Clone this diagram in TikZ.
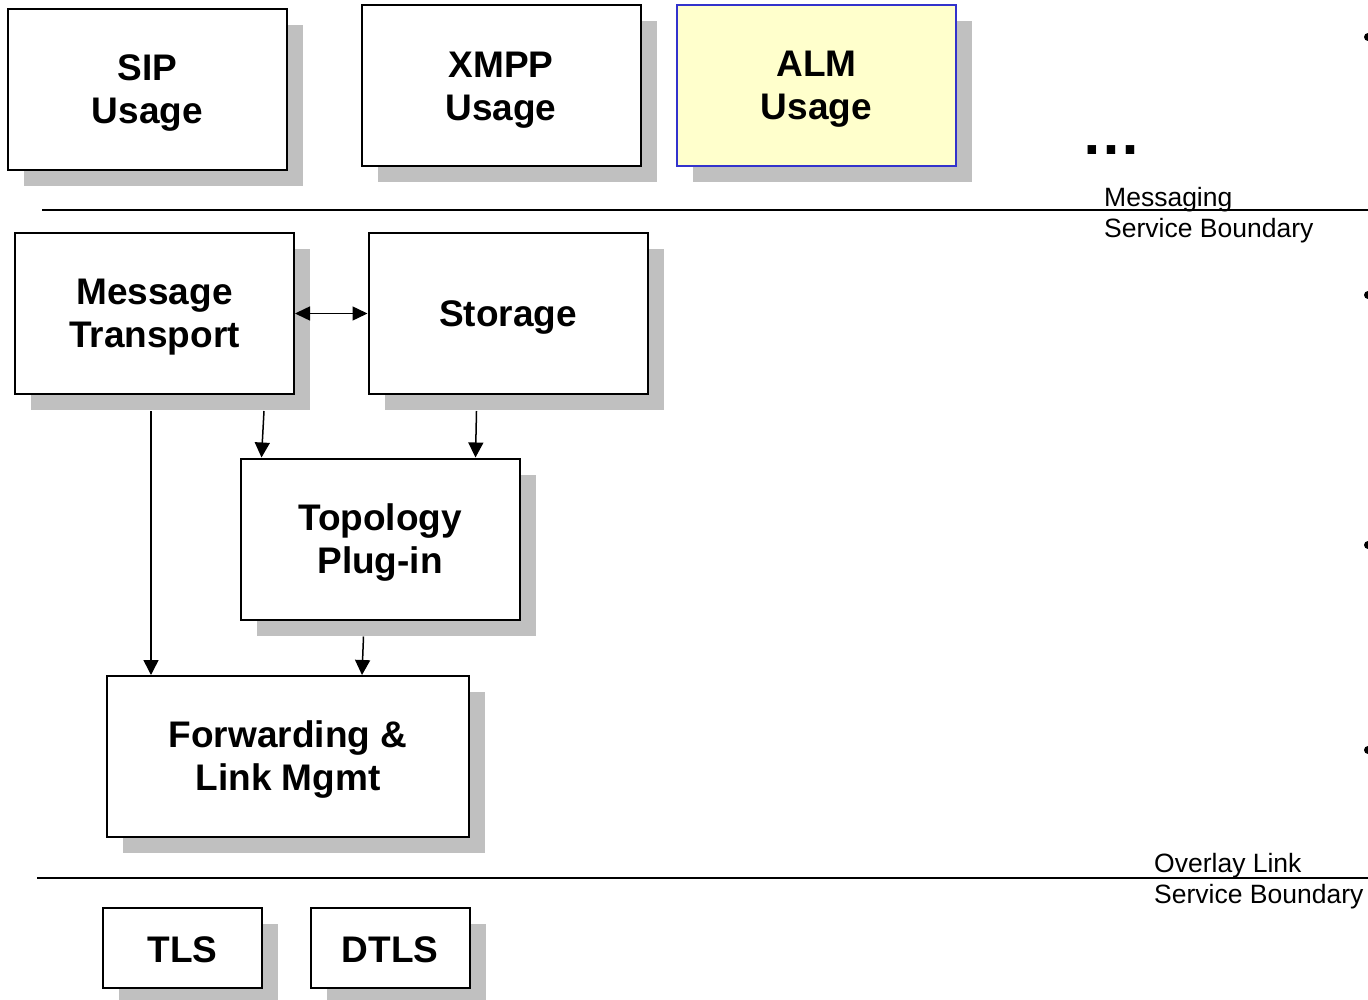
\documentclass[tikz,border=0pt]{standalone}
\usepackage{fontspec}
\setmainfont{Liberation Sans}
\usetikzlibrary{shadows,arrows.meta,calc}
\definecolor{shadowgray}{RGB}{192,192,192}
\definecolor{almfill}{RGB}{255,255,204}
\definecolor{almblue}{RGB}{51,51,204}
\newcommand\tallstrut{\rule{0pt}{33pt}}
\begin{document}
\begin{tikzpicture}[x=1pt,y=-1pt,
  box/.style={draw=black, line width=2pt, fill=white, inner sep=0pt, align=center,
    font=\fontsize{37}{43}\selectfont\bfseries,
    drop shadow={shadow xshift=16pt, shadow yshift=-16pt, fill=shadowgray, opacity=1}},
  bigbox/.style={box, minimum width=279pt, minimum height=161pt},
  smallbox/.style={box, minimum width=159pt, minimum height=80pt,
    execute at begin node={\rule{0pt}{29pt}}},
  arr/.style={line width=1.5pt, -{Triangle[length=15pt,width=15pt]}},
  dblarr/.style={line width=1.5pt, {Triangle[length=15pt,width=14pt]}-{Triangle[length=15pt,width=14pt]}},
  bline/.style={line width=2pt},
  lbl/.style={inner sep=0pt, align=left, font=\fontsize{26.5}{31}\selectfont},
  bullet/.style={fill=black}
]
\useasboundingbox[fill=white] (0,0) rectangle (1368,1000);

% top row
\node[bigbox] (sip) at (147.5,89.5) {\tallstrut SIP\\Usage};
\node[bigbox] (xmpp) at (501,86) {\tallstrut XMPP\\Usage};
\node[bigbox, draw=almblue, fill=almfill] (alm) at (816.5,85.5) {\tallstrut ALM\\Usage};
\node[inner sep=0pt, font=\fontsize{60}{60}\selectfont\bfseries] (dots) at (1111,150) {…};

% messaging boundary
\coordinate (m1) at (42,210);
\coordinate (m2) at (1368,210);
\draw[bline] (m1) -- (m2);
\node[lbl, anchor=west] (msglbl) at (1104,215) {Messaging\\Service Boundary};

% middle
\node[bigbox] (mt) at (154.5,313.5) {\tallstrut Message\\Transport};
\node[bigbox] (st) at (508,313.5) {\tallstrut Storage};
\node[bigbox] (topo) at (380,539) {\tallstrut Topology\\Plug-in};
\node[bigbox, minimum width=362pt] (fwd) at (288,756.5) {\tallstrut Forwarding \&\\Link Mgmt};

\draw[dblarr] (mt.east) -- (st.west);
\draw[arr] ([shift={(250,16)}]mt.south west) -- ([xshift=22pt]topo.north west);
\draw[arr] ([shift={(109,16)}]st.south west) -- ([xshift=236pt]topo.north west);
\draw[arr] ([shift={(137,16)}]mt.south west) -- ([xshift=45pt]fwd.north west);
\draw[arr] ([shift={(124,16)}]topo.south west) -- ([xshift=256pt]fwd.north west);

% overlay link boundary
\coordinate (o1) at (37,878);
\coordinate (o2) at (1368,878);
\draw[bline] (o1) -- (o2);
\node[lbl, anchor=west] (ovllbl) at (1154,881) {Overlay Link\\Service Boundary};

% bottom
\node[smallbox] (tls) at (182.5,948) {TLS};
\node[smallbox] (dtls) at (390,948) {DTLS};

% cut-off bullets at right edge
\fill[bullet] (1368,37) circle (4);
\fill[bullet] (1368,295) circle (4);
\fill[bullet] (1368,545) circle (4);
\fill[bullet] (1368,750) circle (4);
\end{tikzpicture}
\end{document}
